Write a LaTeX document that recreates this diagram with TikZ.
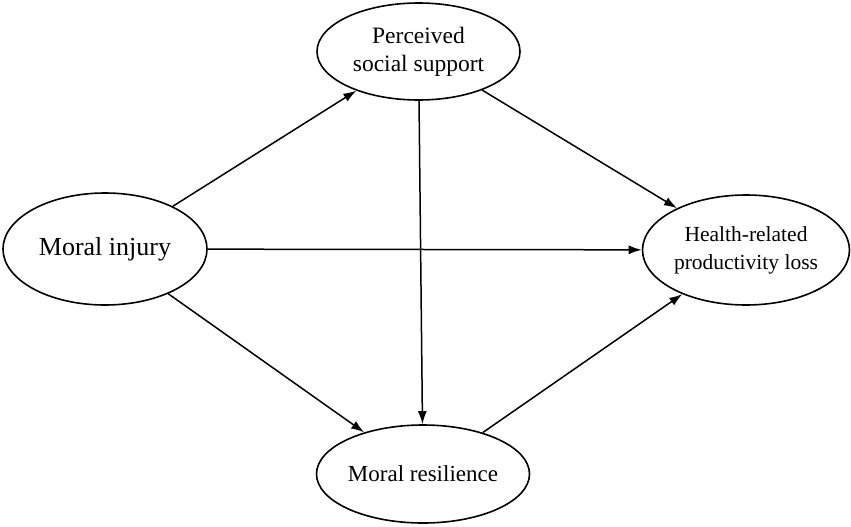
\documentclass[tikz,border=0pt]{standalone}
\usepackage{fontspec}
\setmainfont{Liberation Serif}
\usetikzlibrary{arrows.meta,shapes.geometric}

\begin{document}
\begin{tikzpicture}[x=1pt,y=-1pt,
    var/.style={draw, ellipse, line width=1.6pt, inner sep=0pt, align=center},
    effect/.style={-{Latex[length=13pt,width=9pt]}, line width=1.5pt}]
    \useasboundingbox (0,0) rectangle (851,527);

    \node[var, minimum width=204pt, minimum height=112pt,
          font=\fontsize{26}{30}\selectfont] (injury) at (105,249) {Moral injury};
    \node[var, minimum width=203pt, minimum height=97pt,
          font=\fontsize{23.5}{28}\selectfont] (support) at (418.5,51.5) {Perceived\\social support};
    \node[var, minimum width=207pt, minimum height=110pt,
          font=\fontsize{21.5}{28}\selectfont] (loss) at (746,250) {Health-related\\productivity loss};
    \node[var, minimum width=213pt, minimum height=98pt,
          font=\fontsize{23}{28}\selectfont] (resilience) at (423,474) {Moral resilience};

    \draw[effect] (injury) -- (support);
    \draw[effect] (injury) -- (loss);
    \draw[effect] (injury) -- (resilience);
    \draw[effect] (support) -- (resilience);
    \draw[effect] (support) -- (loss);
    \draw[effect] (resilience) -- (loss);
\end{tikzpicture}
\end{document}
